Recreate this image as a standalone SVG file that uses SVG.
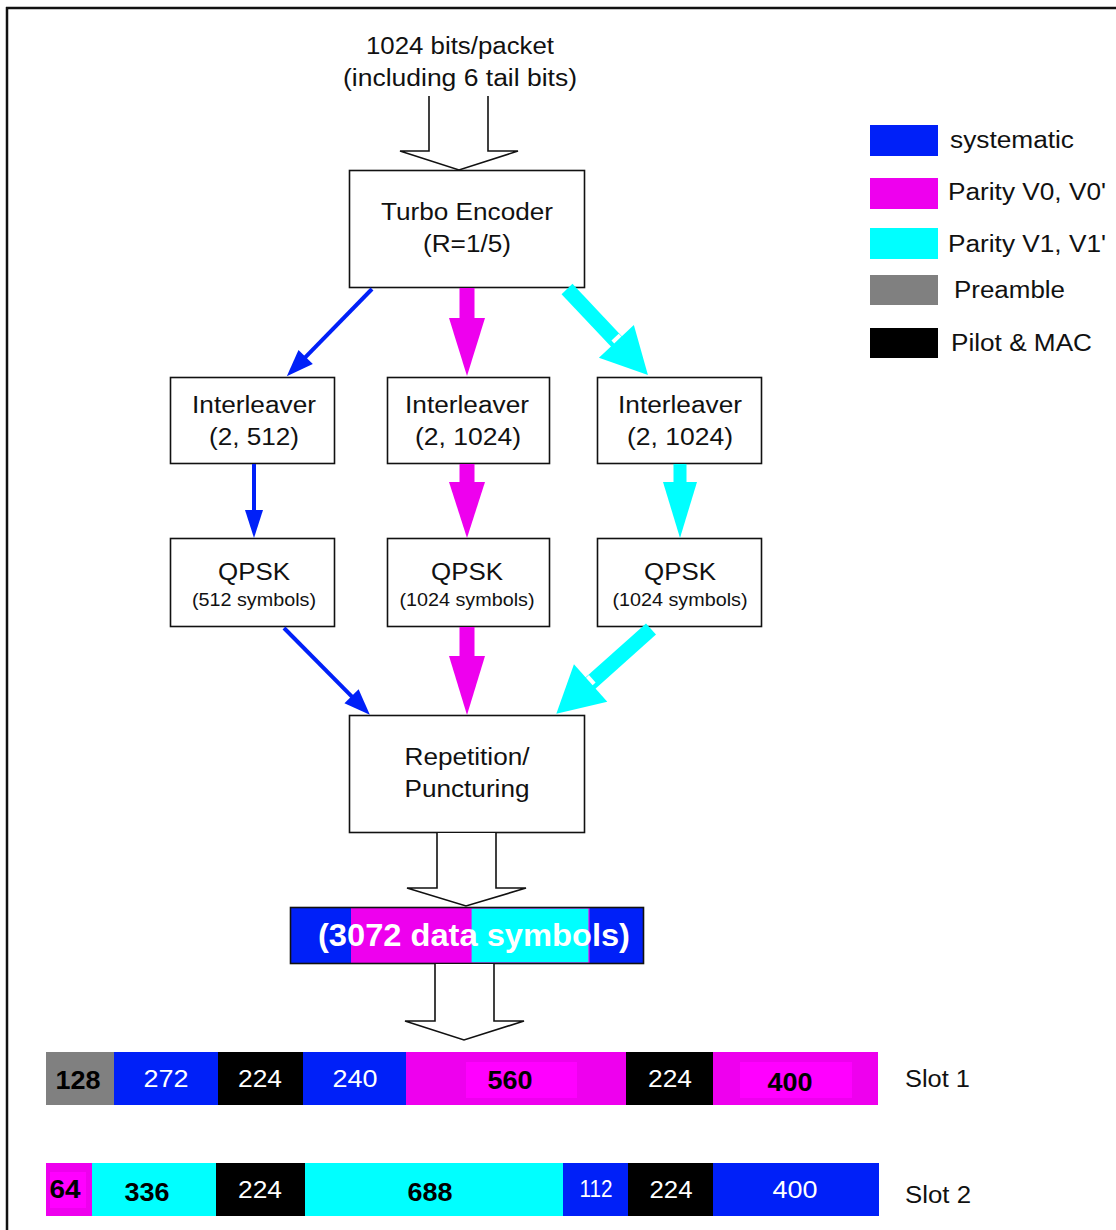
<svg xmlns="http://www.w3.org/2000/svg" width="1116" height="1230" viewBox="0 0 1116 1230">
<style>
.t{font-family:"Liberation Sans",Arial,sans-serif;font-size:23px;fill:#111;text-anchor:middle}
.s{font-family:"Liberation Sans",Arial,sans-serif;font-size:17.5px;fill:#111;text-anchor:middle}
.lg{font-family:"Liberation Sans",Arial,sans-serif;font-size:23px;fill:#111}
.nb{font-family:"Liberation Sans",Arial,sans-serif;font-size:26px;font-weight:bold;fill:#000;text-anchor:middle}
.nw{font-family:"Liberation Sans",Arial,sans-serif;font-size:24px;fill:#fff;text-anchor:middle}
.box{fill:#fff;stroke:#111;stroke-width:1.6}
.hollow{fill:#fff;stroke:#111;stroke-width:1.6;stroke-linejoin:miter}
.blue{fill:#0020F8}
.mag{fill:#EE00EE}
.mag2{fill:#FF00FF}
.cyan{fill:#00FFFF}
.gray{fill:#808080}
.blk{fill:#000}
</style>
<rect x="0" y="0" width="1116" height="1230" fill="#fff"/>
<g id="frame" stroke="#111" stroke-width="2.5" fill="none">
<line x1="6" y1="8" x2="1116" y2="8"/>
<line x1="7" y1="7" x2="7" y2="1230"/>
</g>

<g id="input">
<text class="t" x="460" y="54" textLength="188" lengthAdjust="spacingAndGlyphs">1024 bits/packet</text>
<text class="t" x="460" y="86" textLength="234" lengthAdjust="spacingAndGlyphs">(including 6 tail bits)</text>
</g>

<g id="turbo">
<rect class="box" x="349.5" y="170.5" width="235" height="117"/>
<text class="t" x="467" y="220" textLength="172" lengthAdjust="spacingAndGlyphs">Turbo Encoder</text>
<text class="t" x="467" y="252" textLength="88" lengthAdjust="spacingAndGlyphs">(R=1/5)</text>
</g>

<g id="int1">
<rect class="box" x="170.5" y="377.5" width="164" height="86"/>
<text class="t" x="254" y="413" textLength="124" lengthAdjust="spacingAndGlyphs">Interleaver</text>
<text class="t" x="254" y="445" textLength="90" lengthAdjust="spacingAndGlyphs">(2, 512)</text>
</g>
<g id="int2">
<rect class="box" x="387.5" y="377.5" width="162" height="86"/>
<text class="t" x="467" y="413" textLength="124" lengthAdjust="spacingAndGlyphs">Interleaver</text>
<text class="t" x="468" y="445" textLength="106" lengthAdjust="spacingAndGlyphs">(2, 1024)</text>
</g>
<g id="int3">
<rect class="box" x="597.5" y="377.5" width="164" height="86"/>
<text class="t" x="680" y="413" textLength="124" lengthAdjust="spacingAndGlyphs">Interleaver</text>
<text class="t" x="680" y="445" textLength="106" lengthAdjust="spacingAndGlyphs">(2, 1024)</text>
</g>

<g id="qpsk1">
<rect class="box" x="170.5" y="538.5" width="164" height="88"/>
<text class="t" x="254" y="580" textLength="72" lengthAdjust="spacingAndGlyphs">QPSK</text>
<text class="s" x="254" y="606" textLength="124" lengthAdjust="spacingAndGlyphs">(512 symbols)</text>
</g>
<g id="qpsk2">
<rect class="box" x="387.5" y="538.5" width="162" height="88"/>
<text class="t" x="467" y="580" textLength="72" lengthAdjust="spacingAndGlyphs">QPSK</text>
<text class="s" x="467" y="606" textLength="135" lengthAdjust="spacingAndGlyphs">(1024 symbols)</text>
</g>
<g id="qpsk3">
<rect class="box" x="597.5" y="538.5" width="164" height="88"/>
<text class="t" x="680" y="580" textLength="72" lengthAdjust="spacingAndGlyphs">QPSK</text>
<text class="s" x="680" y="606" textLength="135" lengthAdjust="spacingAndGlyphs">(1024 symbols)</text>
</g>

<g id="reppunct">
<rect class="box" x="349.5" y="715.5" width="235" height="117"/>
<text class="t" x="467" y="765" textLength="125" lengthAdjust="spacingAndGlyphs">Repetition/</text>
<text class="t" x="467" y="797" textLength="125" lengthAdjust="spacingAndGlyphs">Puncturing</text>
</g>

<g id="databar">
<rect class="blue" x="290" y="907" width="354" height="57"/>
<rect class="mag" x="351" y="907" width="120" height="57"/>
<rect class="cyan" x="471" y="908" width="118" height="55" stroke="#EE00EE" stroke-width="1.2"/>
<rect x="290.5" y="907.5" width="353" height="56" fill="none" stroke="#111" stroke-width="1.6"/>
<text x="474" y="946" font-family="Liberation Sans, Arial, sans-serif" font-size="31" font-weight="bold" fill="#fff" text-anchor="middle" textLength="312" lengthAdjust="spacingAndGlyphs">(3072 data symbols)</text>
</g>

<g id="slot1">
<rect class="gray" x="46" y="1052" width="68" height="53"/>
<rect class="blue" x="114" y="1052" width="104" height="53"/>
<rect class="blk" x="218" y="1052" width="85" height="53"/>
<rect class="blue" x="303" y="1052" width="103" height="53"/>
<rect class="mag" x="406" y="1052" width="220" height="53"/>
<rect class="mag2" x="466" y="1062" width="111" height="36"/>
<rect class="blk" x="626" y="1052" width="87" height="53"/>
<rect class="mag" x="713" y="1052" width="165" height="53"/>
<rect class="mag2" x="740" y="1062" width="112" height="36"/>
<text class="nb" x="78" y="1089" textLength="45" lengthAdjust="spacingAndGlyphs">128</text>
<text class="nw" x="166" y="1087" textLength="45" lengthAdjust="spacingAndGlyphs">272</text>
<text class="nw" x="260" y="1087" textLength="44" lengthAdjust="spacingAndGlyphs">224</text>
<text class="nw" x="355" y="1087" textLength="45" lengthAdjust="spacingAndGlyphs">240</text>
<text class="nb" x="510" y="1089" textLength="45" lengthAdjust="spacingAndGlyphs">560</text>
<text class="nw" x="670" y="1087" textLength="44" lengthAdjust="spacingAndGlyphs">224</text>
<text class="nb" x="790" y="1091" textLength="45" lengthAdjust="spacingAndGlyphs">400</text>
<text class="lg" x="905" y="1087" textLength="65" lengthAdjust="spacingAndGlyphs">Slot 1</text>
</g>

<g id="slot2">
<rect class="mag" x="46" y="1163" width="46" height="53"/>
<rect class="mag2" x="50" y="1172" width="36" height="36"/>
<rect class="cyan" x="92" y="1163" width="124" height="53"/>
<rect class="blk" x="216" y="1163" width="89" height="53"/>
<rect class="cyan" x="305" y="1163" width="258" height="53"/>
<rect class="blue" x="563" y="1163" width="65" height="53"/>
<rect class="blk" x="628" y="1163" width="85" height="53"/>
<rect class="blue" x="713" y="1163" width="166" height="53"/>
<text class="nb" x="65" y="1198" textLength="31" lengthAdjust="spacingAndGlyphs">64</text>
<text class="nb" x="147" y="1201" textLength="45" lengthAdjust="spacingAndGlyphs">336</text>
<text class="nw" x="260" y="1198" textLength="44" lengthAdjust="spacingAndGlyphs">224</text>
<text class="nb" x="430" y="1201" textLength="45" lengthAdjust="spacingAndGlyphs">688</text>
<text class="nw" x="596" y="1197" font-size="20" textLength="33" lengthAdjust="spacingAndGlyphs">112</text>
<text class="nw" x="671" y="1198" textLength="43" lengthAdjust="spacingAndGlyphs">224</text>
<text class="nw" x="795" y="1198" textLength="45" lengthAdjust="spacingAndGlyphs">400</text>
<text class="lg" x="905" y="1203" textLength="66" lengthAdjust="spacingAndGlyphs">Slot 2</text>
</g>

<g id="legend">
<rect class="blue" x="870" y="125" width="68" height="31"/>
<text class="lg" x="950" y="148" textLength="124" lengthAdjust="spacingAndGlyphs">systematic</text>
<rect class="mag" x="870" y="178" width="68" height="31"/>
<text class="lg" x="948" y="200" textLength="158" lengthAdjust="spacingAndGlyphs">Parity V0, V0'</text>
<rect class="cyan" x="870" y="228" width="68" height="31"/>
<text class="lg" x="948" y="252" textLength="158" lengthAdjust="spacingAndGlyphs">Parity V1, V1'</text>
<rect class="gray" x="870" y="275" width="68" height="30"/>
<text class="lg" x="954" y="298" textLength="111" lengthAdjust="spacingAndGlyphs">Preamble</text>
<rect class="blk" x="870" y="328" width="68" height="30"/>
<text class="lg" x="951" y="351" textLength="141" lengthAdjust="spacingAndGlyphs">Pilot &amp; MAC</text>
</g>

<g id="connectors">
<polyline class="hollow" points="429,96 429,151 400,151 459,170 518,151 488,151 488,96"/>
<polyline class="hollow" points="437,833 437,888 407,888 466,906 526,888 496,888 496,833"/>
<polyline class="hollow" points="435,964 435,1021 405,1021 464,1040 524,1021 494,1021 494,964"/>

<g transform="translate(372,289) rotate(44.3)">
<line x1="0" y1="0" x2="0" y2="97" stroke="#0020F8" stroke-width="4"/>
<polygon class="blue" points="-10,95 10,95 0,122"/>
</g>
<g transform="translate(254,464)">
<line x1="0" y1="0" x2="0" y2="48" stroke="#0020F8" stroke-width="4"/>
<polygon class="blue" points="-9,46 9,46 0,74"/>
</g>
<g transform="translate(284,628) rotate(-44.7)">
<line x1="0" y1="0" x2="0" y2="98" stroke="#0020F8" stroke-width="4"/>
<polygon class="blue" points="-10,96 10,96 0,122"/>
</g>

<g transform="translate(467,288)">
<rect class="mag" x="-7.5" y="0" width="15" height="31"/>
<polygon class="mag" points="-18,30 18,30 0,88"/>
</g>
<g transform="translate(467,464)">
<rect class="mag" x="-7.5" y="0" width="15" height="19"/>
<polygon class="mag" points="-18,18 18,18 0,74"/>
</g>
<g transform="translate(467,627)">
<rect class="mag" x="-7.5" y="0" width="15" height="30"/>
<polygon class="mag" points="-18,29 18,29 0,88"/>
</g>

<g transform="translate(567,289) rotate(-43.3)">
<rect class="cyan" x="-7.5" y="0" width="15" height="73"/>
<polygon class="cyan" points="-24,72 24,72 0,118"/>
<rect x="-3" y="68" width="10" height="4" fill="#fff"/>
</g>
<g transform="translate(680,464)">
<rect class="cyan" x="-6.5" y="0" width="13" height="19"/>
<polygon class="cyan" points="-17,18 17,18 0,74"/>
</g>
<g transform="translate(651,629) rotate(48.2)">
<rect class="cyan" x="-7.5" y="0" width="15" height="82"/>
<polygon class="cyan" points="-25,81 25,81 0,127"/>
<rect x="-7" y="77" width="10" height="4" fill="#fff"/>
</g>
</g>
</svg>
